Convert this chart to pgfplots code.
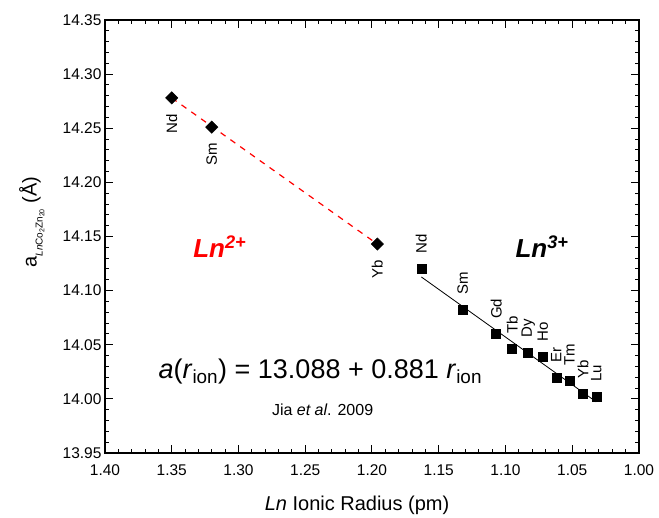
\documentclass[border=0pt]{standalone}
\usepackage{fontspec}
\setmainfont{Liberation Sans}
\usepackage{pgfplots}
\pgfplotsset{compat=1.18}

\newcommand{\elemfont}{\fontsize{15}{17}\selectfont}

\begin{document}
\begin{tikzpicture}
% page frame around the axis box (axis sits with its lower-left corner at the origin)
\path[use as bounding box] (-105pt,-65pt) rectangle (554pt,453pt);
\begin{axis}[
  scale only axis,
  width=534pt, height=433pt,
  x dir=reverse,
  xmin=1.00, xmax=1.40,
  ymin=13.95, ymax=14.35,
  xtick={1.00,1.05,1.10,1.15,1.20,1.25,1.30,1.35,1.40},
  ytick={13.95,14.00,14.05,14.10,14.15,14.20,14.25,14.30,14.35},
  minor x tick num=4, minor y tick num=4,
  tick align=inside,
  major tick length=8pt, minor tick length=4pt,
  every tick/.style={black, line width=1pt},
  axis line style={line width=1.3pt},
  tick label style={font=\fontsize{15.5}{18}\selectfont},
  xticklabel style={yshift=-8pt, /pgf/number format/.cd, fixed, fixed zerofill, precision=2, assume math mode=true},
  yticklabel style={/pgf/number format/.cd, fixed, fixed zerofill, precision=2, assume math mode=true},
  xlabel={\textit{Ln} Ionic Radius (pm)},
  xlabel style={font=\fontsize{20}{24}\selectfont, at={(axis description cs:0.472,-0.12)}, anchor=center},
  ylabel={a\raisebox{-0.55ex}{\fontsize{10}{10}\selectfont\textit{Ln}Co\raisebox{-0.35ex}{\fontsize{7}{7}\selectfont 2}Zn\raisebox{-0.35ex}{\fontsize{7}{7}\selectfont 20}} (Å)},
  ylabel style={font=\fontsize{20}{24}\selectfont, at={(axis description cs:-0.137,0.533)}, anchor=center, rotate=0},
  clip=false,
]

% Ln(2+) series, labels below the points
\addplot[only marks, mark=square*, mark size=4.4pt, mark options={rotate=45, fill=black, draw=black},
  nodes near coords, point meta=explicit symbolic,
  every node near coord/.style={rotate=90, anchor=east, inner xsep=16pt, inner ysep=0pt, font=\elemfont, black}]
  coordinates {(1.350,14.278) [Nd] (1.320,14.251) [Sm] (1.196,14.143) [Yb]};

% Ln(3+) series, labels above the points
\addplot[only marks, mark=square*, mark size=4.5pt, mark options={fill=black, draw=black},
  nodes near coords, point meta=explicit symbolic,
  every node near coord/.style={rotate=90, anchor=west, inner xsep=15pt, inner ysep=0pt, font=\elemfont, black}]
  coordinates {
    (1.163,14.120) [Nd]
    (1.132,14.082) [Sm]
    (1.107,14.060) [Gd]
    (1.095,14.046) [Tb]
    (1.083,14.043) [Dy]
    (1.072,14.039) [Ho]
    (1.062,14.020) [Er]
    (1.052,14.017) [Tm]
    (1.042,14.005) [Yb]
    (1.032,14.002) [Lu]
  };

% linear fit for Ln(3+): a = 13.088 + 0.881 r
\addplot[black, line width=0.8pt] coordinates {(1.163,14.1126) (1.032,13.9972)};

% trend line for Ln(2+)
\addplot[red, line width=1.2pt, dash pattern=on 6pt off 6pt] coordinates {(1.350,14.278) (1.196,14.143)};

\node[anchor=base west, text=red, font=\fontsize{26}{30}\selectfont\bfseries\itshape, inner sep=0pt]
  at (axis cs:1.334,14.131) {Ln\textsuperscript{2+}};
\node[anchor=base west, text=black, font=\fontsize{26}{30}\selectfont\bfseries\itshape, inner sep=0pt]
  at (axis cs:1.0926,14.131) {Ln\textsuperscript{3+}};

\node[anchor=base west, font=\fontsize{27}{31}\selectfont, inner sep=0pt]
  at (axis cs:1.360,14.019) {\textit{a}(\textit{r}\textsubscript{ion}) = 13.088 + 0.881 \textit{r}\textsubscript{ion}};
\node[anchor=base west, font=\fontsize{16}{19}\selectfont, inner sep=0pt]
  at (axis cs:1.275,13.985) {Jia \textit{et al}. 2009};
\end{axis}
\end{tikzpicture}
\end{document}
